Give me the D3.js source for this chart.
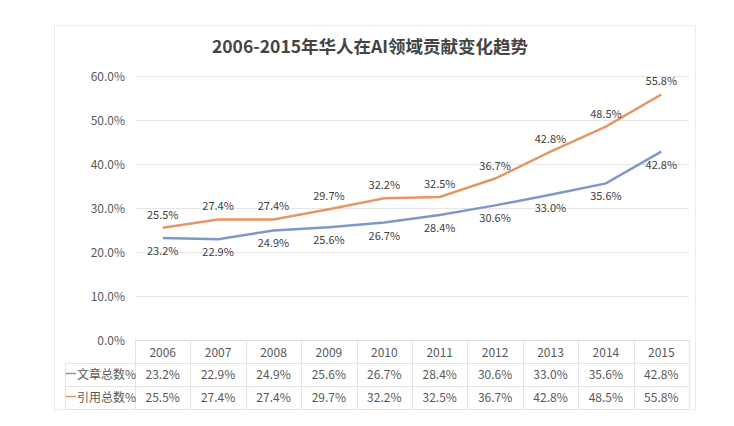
<!DOCTYPE html>
<html><head><meta charset="utf-8">
<script src="https://cdn.jsdelivr.net/npm/d3@7"></script>
<style>body{margin:0;background:#fff;}svg{display:block;}</style>
</head><body>
<script>
const years = ["2006","2007","2008","2009","2010","2011","2012","2013","2014","2015"];
const articles = [23.2,22.9,24.9,25.6,26.7,28.4,30.6,33.0,35.6,42.8];
const citations = [25.5,27.4,27.4,29.7,32.2,32.5,36.7,42.8,48.5,55.8];
const seriesNames = ["文章总数%","引用总数%"];
const yTicks = [0,10,20,30,40,50,60];
const title = "2006-2015年华人在AI领域贡献变化趋势";

const W=734,H=426;
const svg=d3.select("body").append("svg").attr("width",W).attr("height",H);
const font="'Noto Sans CJK SC','Noto Sans',sans-serif";
const blue="#7e98c9", orange="#e69566";

// frame
svg.append("rect").attr("x",54.5).attr("y",25.5).attr("width",641).attr("height",384)
  .attr("fill","#fff").attr("stroke","#ececec");

svg.append("text").attr("x",370).attr("y",53).attr("text-anchor","middle")
  .attr("font-family",font).attr("font-weight","bold").attr("font-size",17.5)
  .attr("fill","#444").text(title);

const x=d3.scaleBand().domain(years).range([135,689]);
const y=d3.scaleLinear().domain([0,60]).range([340,76]);

// gridlines
svg.append("g").selectAll("line").data(yTicks.slice(1)).join("line")
  .attr("x1",135).attr("x2",689).attr("y1",d=>y(d)+0.5).attr("y2",d=>y(d)+0.5)
  .attr("stroke","#e6e6e6");

const yAxis=svg.append("g").attr("transform","translate(128,0)")
  .call(d3.axisLeft(y).tickValues(yTicks).tickFormat(d=>d.toFixed(1)+"%").tickSize(0));
yAxis.select(".domain").remove();
yAxis.selectAll("text").attr("font-family",font).attr("font-size",12).attr("fill","#595959").attr("dy","0.35em");

// table
const rowTop=[340,363,386,409];
const tg=svg.append("g");
tg.append("line").attr("x1",135).attr("x2",689).attr("y1",340.5).attr("y2",340.5).attr("stroke","#d9d9d9");
[363,386,409].forEach(r=>tg.append("line").attr("x1",65).attr("x2",689).attr("y1",r+0.5).attr("y2",r+0.5).attr("stroke","#e3e3e3"));
tg.append("line").attr("x1",65.5).attr("x2",65.5).attr("y1",363).attr("y2",409).attr("stroke","#e3e3e3");
years.forEach(yr=>{
  tg.append("line").attr("x1",Math.round(x(yr))+0.5).attr("x2",Math.round(x(yr))+0.5).attr("y1",340).attr("y2",409).attr("stroke","#e3e3e3");
});
tg.append("line").attr("x1",689.5).attr("x2",689.5).attr("y1",340).attr("y2",409).attr("stroke","#e3e3e3");

const xAxis=svg.append("g").attr("transform","translate(0,340)")
  .call(d3.axisBottom(x).tickSize(0).tickPadding(8));
xAxis.select(".domain").remove();
xAxis.selectAll("text").attr("font-family",font).attr("font-size",12).attr("fill","#595959").attr("dy","0.75em");

const rows=[{name:seriesNames[0],vals:articles,color:blue},{name:seriesNames[1],vals:citations,color:orange}];
rows.forEach((r,i)=>{
  const cy=(rowTop[i+1]+rowTop[i+2])/2;
  tg.append("line").attr("x1",66).attr("x2",76).attr("y1",cy-1).attr("y2",cy-1).attr("stroke",r.color).attr("stroke-width",1.5);
  tg.append("text").attr("x",77).attr("y",cy).attr("dy","0.35em").attr("font-family",font).attr("font-size",12)
    .attr("fill","#595959").text(r.name);
  r.vals.forEach((v,j)=>{
    tg.append("text").attr("x",x(years[j])+x.bandwidth()/2).attr("y",cy).attr("dy","0.35em")
      .attr("text-anchor","middle").attr("font-family",font).attr("font-size",12).attr("fill","#595959")
      .text(v.toFixed(1)+"%");
  });
});

// lines
const line=d3.line().x((d,i)=>x(years[i])+x.bandwidth()/2).y(d=>y(d));
svg.append("path").datum(articles).attr("d",line).attr("fill","none").attr("stroke",blue).attr("stroke-width",2.5);
svg.append("path").datum(citations).attr("d",line).attr("fill","none").attr("stroke",orange).attr("stroke-width",2.5);

// labels
const lab=svg.append("g").attr("font-family",font).attr("font-size",11).attr("fill","#404040").attr("text-anchor","middle");
citations.forEach((v,i)=>{
  lab.append("text").attr("x",x(years[i])+x.bandwidth()/2).attr("y",y(v)-9).text(v.toFixed(1)+"%");
});
articles.forEach((v,i)=>{
  lab.append("text").attr("x",x(years[i])+x.bandwidth()/2).attr("y",y(v)+17).text(v.toFixed(1)+"%");
});
</script>
</body></html>
